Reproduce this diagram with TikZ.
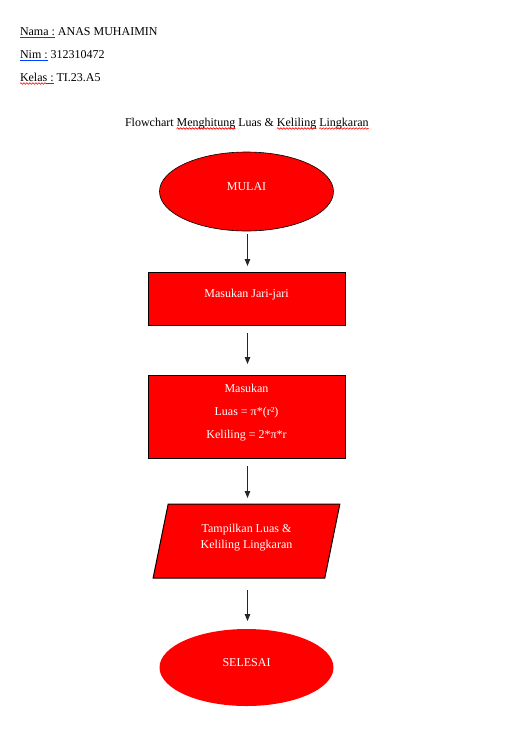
\documentclass[tikz,border=0pt]{standalone}
\usepackage{fontspec}
\setmainfont{Liberation Serif}
\usetikzlibrary{arrows.meta, positioning, shapes.geometric, decorations.pathmorphing}

\begin{document}
\begin{tikzpicture}[
  x=1pt, y=-1pt,
  font=\fontsize{12}{14}\selectfont,
  txt/.style={anchor=base west, inner sep=0pt, outer sep=0pt},
  terminal/.style={ellipse, fill=red, text=white, minimum width=174pt,
                   minimum height=79pt, inner sep=0pt, outer sep=0pt, text depth=10pt},
  process/.style={draw, line width=1pt, fill=red, text=white, minimum width=197pt,
                  inner sep=0pt, outer sep=0pt, align=center, text depth=10pt},
  io/.style={trapezium, trapezium left angle=75.6, trapezium right angle=104.4,
             trapezium stretches=true, draw, line width=1pt, fill=red, text=white,
             minimum width=187pt, minimum height=74pt, inner sep=0pt, outer sep=0pt,
             align=center, text depth=10pt},
  arrow/.style={-{Triangle[length=7pt, width=5.5pt]}, line width=0.9pt, black!85},
  link/.style={draw=blue!75!cyan, line width=1pt},
  typo/.style={draw=red, line width=0.6pt, decorate,
               decoration={snake, segment length=3pt, amplitude=0.8pt}}
]
\useasboundingbox[fill=white] (0,0) rectangle (506,748);

% header
\node[txt] (namalbl) at (20,35) {Nama :};
\node[txt] (nama) at (namalbl.base east) {\ ANAS MUHAIMIN};
\node[txt] (nimlbl) at (20,58) {Nim :};
\node[txt] (nim) at (nimlbl.base east) {\ 312310472};
\node[txt] (kelaslbl) at (20,81) {Kelas};
\node[txt] (kelascol) at (kelaslbl.base east) {\ :};
\node[txt] (kelas) at (kelascol.base east) {\ TI.23.A5};

\draw[link] ([yshift=-2.5pt]namalbl.base west) -- ([yshift=-2.5pt]namalbl.base east);
\draw[link] ([yshift=-2.5pt]nimlbl.base west) -- ([yshift=-2.5pt]nimlbl.base east);
\draw[link] ([yshift=-2.5pt]kelascol.base west) -- ([yshift=-2.5pt]kelascol.base east);
\draw[typo] ([yshift=-2.5pt]kelaslbl.base west) -- ([yshift=-2.5pt]kelaslbl.base east);

% title
\node[txt] (t1) at (125,126) {Flowchart\ \null};
\node[txt] (t2) at (t1.base east) {Menghitung};
\node[txt] (t3) at (t2.base east) {\ Luas \&\ \null};
\node[txt] (t4) at (t3.base east) {Keliling};
\node[txt] (t5) at (t4.base east) {\ \null};
\node[txt] (t6) at (t5.base east) {Lingkaran};

\draw[typo] ([yshift=-2.5pt]t2.base west) -- ([yshift=-2.5pt]t2.base east);
\draw[typo] ([yshift=-2.5pt]t4.base west) -- ([yshift=-2.5pt]t4.base east);
\draw[typo] ([yshift=-2.5pt]t6.base west) -- ([yshift=-2.5pt]t6.base east);

% flowchart
\node[terminal, draw, line width=0.6pt] (start) at (246.5,191.5) {MULAI};
\node[process, minimum height=53pt, below=41pt of start] (input) {Masukan Jari-jari};
\node[process, minimum height=83pt, below=50pt of input,
      font=\fontsize{12}{23}\selectfont] (calc)
  {Masukan\\Luas = π*(r²)\\Keliling = 2*π*r};
\node[io, below=46pt of calc, font=\fontsize{12}{16}\selectfont] (output)
  {Tampilkan Luas \&\\Keliling Lingkaran};
\node[terminal, minimum height=77pt, below=51pt of output] (stop) {SELESAI};

\draw[arrow, shorten <=3pt, shorten >=6pt] ([xshift=1pt]start.south) -- ([xshift=1pt]input.north);
\draw[arrow, shorten <=8pt, shorten >=11pt] ([xshift=1pt]input.south) -- ([xshift=1pt]calc.north);
\draw[arrow, shorten <=8pt, shorten >=6pt] ([xshift=1pt]calc.south) -- ([xshift=1pt]output.north);
\draw[arrow, shorten <=12pt, shorten >=8pt] ([xshift=1pt]output.south) -- ([xshift=1pt]stop.north);
\end{tikzpicture}
\end{document}
